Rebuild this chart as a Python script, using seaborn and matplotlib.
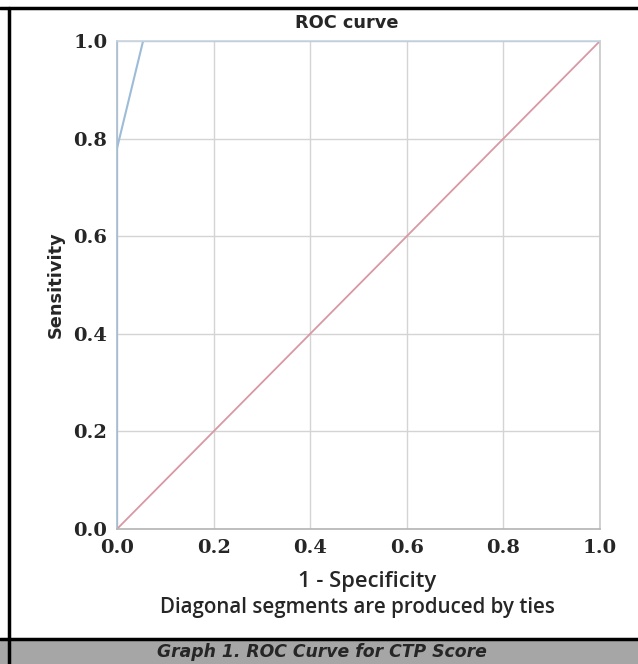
import seaborn as sns
import matplotlib.pyplot as plt
import pandas as pd
from matplotlib.patches import Rectangle
from matplotlib.lines import Line2D

# ROC points
fpr = [0.0, 0.0, 0.054, 1.0]
tpr = [0.0, 0.78, 1.0, 1.0]
ref_x = [0.0, 1.0]
ref_y = [0.0, 1.0]
ticks = [0.0, 0.2, 0.4, 0.6, 0.8, 1.0]
tick_labels = ["0.0", "0.2", "0.4", "0.6", "0.8", "1.0"]

sns.set_style("whitegrid", {"grid.color": "#d4d4d4", "axes.edgecolor": "#b0b8c4"})

fig = plt.figure(figsize=(6.38, 6.64), dpi=100)
ax = fig.add_axes([117 / 638, 1 - 529 / 664, 483 / 638, 488 / 664])

roc = pd.DataFrame({"fpr": fpr, "tpr": tpr})
diag = pd.DataFrame({"x": ref_x, "y": ref_y})
sns.lineplot(data=diag, x="x", y="y", ax=ax, color="#d898a4", lw=1.3, sort=False, estimator=None)
sns.lineplot(data=roc, x="fpr", y="tpr", ax=ax, color="#9dbcd8", lw=1.5, sort=False, estimator=None)

ax.set_xlim(0, 1)
ax.set_ylim(0, 1)
ax.set_xticks(ticks)
ax.set_yticks(ticks)
ax.set_xticklabels(tick_labels, fontfamily="DejaVu Serif", fontweight="bold", fontsize=14)
ax.set_yticklabels(tick_labels, fontfamily="DejaVu Serif", fontweight="bold", fontsize=14)
ax.tick_params(axis="both", length=0, pad=7)
ax.grid(True, lw=1.0)
for s in ax.spines.values():
    s.set_linewidth(1.2)
ax.spines["left"].set_color("#a8bcd0")
ax.spines["bottom"].set_color("#b4b4b4")
ax.spines["top"].set_color("#c8d4e0")
ax.spines["right"].set_color("#c8c8c8")

fig.text(347 / 638, 1 - 23 / 664, "ROC curve", ha="center", va="center",
         fontfamily="DejaVu Sans", fontweight="bold", fontsize=12.8)
ax.set_ylabel("Sensitivity", fontfamily="DejaVu Sans", fontweight="bold", fontsize=12.8, labelpad=6)
ax.set_xlabel("")
fig.text(367 / 638, 1 - 582 / 664, "1 - Specificity", ha="center", va="center",
         fontfamily="Open Sans", fontweight="semibold", fontsize=15.8)
fig.text(357 / 638, 1 - 608 / 664, "Diagonal segments are produced by ties",
         ha="center", va="center", fontfamily="Open Sans", fontweight="semibold", fontsize=14.8)

# frame and caption bar
fig.add_artist(Rectangle((0, 0), 1, 24 / 664, transform=fig.transFigure,
                         facecolor="#a6a6a6", edgecolor="none"))
fig.add_artist(Line2D([0, 1], [25 / 664, 25 / 664], transform=fig.transFigure, color="black", lw=2.5))
fig.add_artist(Line2D([0, 1], [1 - 8 / 664, 1 - 8 / 664], transform=fig.transFigure, color="black", lw=2.5))
fig.add_artist(Line2D([9 / 638, 9 / 638], [0, 1 - 8 / 664], transform=fig.transFigure, color="black", lw=2.5))
fig.text(322 / 638, 12 / 664, "Graph 1. ROC Curve for CTP Score", ha="center", va="center",
         fontfamily="DejaVu Sans", fontweight="bold", fontstyle="italic", fontsize=12.4)

fig.savefig("out.png", dpi=100)
